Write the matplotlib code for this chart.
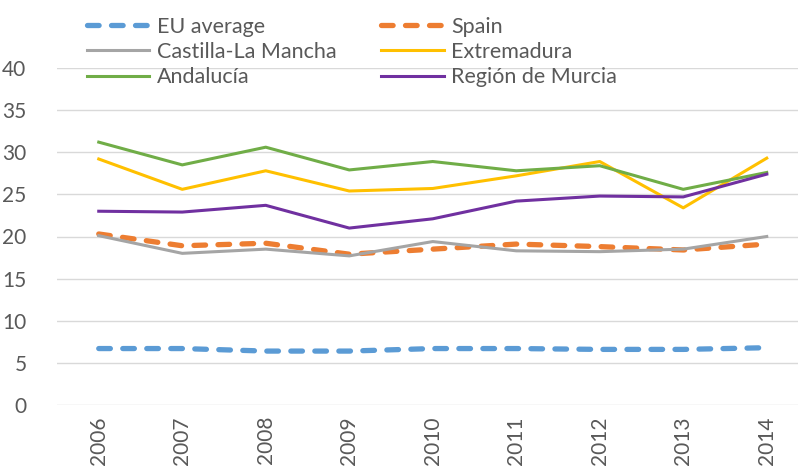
import matplotlib
matplotlib.use("Agg")
import matplotlib.pyplot as plt
import numpy as np

plt.rcParams['font.family'] = ['Lato', 'DejaVu Sans']

years = ["2006", "2007", "2008", "2009", "2010", "2011", "2012", "2013", "2014"]
eu_average = [6.7, 6.7, 6.4, 6.4, 6.7, 6.7, 6.6, 6.6, 6.8]
spain = [20.3, 18.9, 19.2, 17.9, 18.5, 19.1, 18.8, 18.4, 19.1]
castilla = [20.1, 18.0, 18.5, 17.7, 19.4, 18.3, 18.2, 18.5, 20.0]
extremadura = [29.2, 25.6, 27.8, 25.4, 25.7, 27.2, 28.9, 23.4, 29.3]
andalucia = [31.2, 28.5, 30.6, 27.9, 28.9, 27.8, 28.4, 25.6, 27.6]
murcia = [23.0, 22.9, 23.7, 21.0, 22.1, 24.2, 24.8, 24.7, 27.4]

fig = plt.figure(figsize=(7.98, 4.70), dpi=100)
ax = fig.add_axes([57/798, 65/470, 1 - 57/798, (405-68)/470])

x = np.arange(len(years))
l_eu, = ax.plot(x, eu_average, color='#5B9BD5', lw=3.8, dashes=(2.2, 2.35), dash_capstyle='round', label='EU average')
l_es, = ax.plot(x, spain, color='#ED7D31', lw=3.8, dashes=(2.2, 2.35), dash_capstyle='round', label='Spain')
l_cm, = ax.plot(x, castilla, color='#A5A5A5', lw=2.2, label='Castilla-La Mancha')
l_ex, = ax.plot(x, extremadura, color='#FFC000', lw=2.2, label='Extremadura')
l_an, = ax.plot(x, andalucia, color='#70AD47', lw=2.2, label='Andalucía')
l_mu, = ax.plot(x, murcia, color='#7030A0', lw=2.2, label='Región de Murcia')

ax.set_ylim(0, 40)
ax.set_yticks(np.arange(0, 41, 5))
ax.set_xlim(-0.5, -0.5 + (798-57)/83.5)
ax.set_xticks(x)
ax.set_xticklabels(years, rotation=90)
ax.grid(axis='y', color='#D9D9D9', lw=1)
ax.set_axisbelow(True)
for s in ax.spines.values():
    s.set_visible(False)
ax.tick_params(axis='both', length=0, labelsize=15, colors='#595959')
ax.tick_params(axis='y', pad=22)
ax.tick_params(axis='x', pad=8)

leg = fig.legend(handles=[l_eu, l_cm, l_an, l_es, l_ex, l_mu], ncol=2,
                 loc='upper left', bbox_to_anchor=(78/798, 1 - 8/470),
                 frameon=False, fontsize=15.5, handlelength=2.9, handletextpad=0.35,
                 columnspacing=2.1, labelspacing=0.25, borderaxespad=0)
for t in leg.get_texts():
    t.set_color('#595959')

fig.savefig('out.png', dpi=100)
